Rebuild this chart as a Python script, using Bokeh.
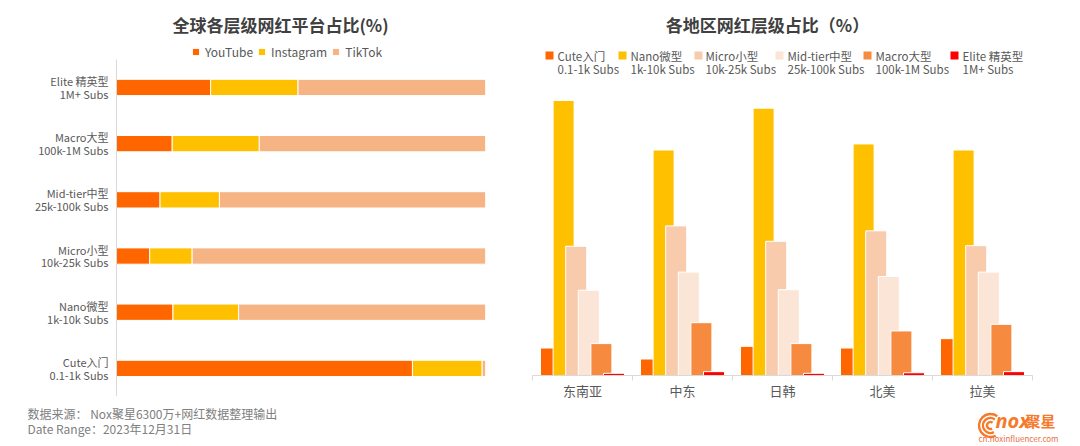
import numpy as np
from bokeh.plotting import figure
from bokeh.layouts import row, column
from bokeh.models import (FixedTicker, Range1d, ColumnDataSource, Legend, LegendItem)
from bokeh.core.properties import value
from bokeh.embed import file_html
from bokeh.resources import INLINE

# ---------------- data ----------------
tiers = ["Cute入门\n0.1-1k Subs", "Nano微型\n1k-10k Subs", "Micro小型\n10k-25k Subs",
         "Mid-tier中型\n25k-100k Subs", "Macro大型\n100k-1M Subs", "Elite 精英型\n1M+ Subs"]
platforms = ["YouTube", "Instagram", "TikTok"]
youtube = [80.2, 15.3, 9.0, 11.8, 15.1, 25.5]
instagram = [18.9, 17.8, 11.5, 16.1, 23.6, 23.7]
tiktok = [0.9, 66.9, 79.5, 72.1, 61.3, 50.8]

regions = ["东南亚", "中东", "日韩", "北美", "拉美"]
tier_names = ["Cute入门", "Nano微型", "Micro小型", "Mid-tier中型", "Macro大型", "Elite 精英型"]
tier_subs = ["0.1-1k Subs", "1k-10k Subs", "10k-25k Subs", "25k-100k Subs", "100k-1M Subs", "1M+ Subs"]
cute = [5.0, 3.0, 5.3, 5.0, 6.7]
nano = [50.0, 41.0, 48.6, 42.1, 41.0]
micro = [23.5, 27.2, 24.4, 26.3, 23.6]
mid = [15.5, 18.8, 15.6, 18.0, 18.8]
macro = [5.8, 9.6, 5.8, 8.1, 9.3]
elite = [0.4, 0.7, 0.4, 0.5, 0.7]

title_left = "全球各层级网红平台占比(%)"
title_right = "各地区网红层级占比（%）"
source_note = "数据来源： Nox聚星6300万+网红数据整理输出"
date_note = "Date Range：2023年12月31日"

FONT = "Noto Sans CJK SC"
plat_colors = ["#FF6600", "#FFC000", "#F6B383"]
tier_colors = ["#FF6600", "#FFC000", "#F8CBAD", "#FBE5D6", "#F68A3E", "#FF0000"]
LOGO = "#F57A2C"


def pane(w, h):
    f = figure(width=w, height=h, x_range=Range1d(0, w), y_range=Range1d(h, 0),
               output_backend="svg", toolbar_location=None, title=None, min_border=0)
    f.axis.visible = False
    f.grid.visible = False
    f.outline_line_color = None
    return f


def txt(f, x, y, t, size, color, bold=False, italic=False, align="left", font=FONT):
    style = "normal"
    if bold and italic:
        style = "bold italic"
    elif bold:
        style = "bold"
    elif italic:
        style = "italic"
    f.text(x=[x], y=[y], text=[t], text_font=value(font), text_font_size=f"{size}px",
           text_color=color, text_font_style=style, text_align=align, text_baseline="middle")


# ---------------- left chart ----------------
ypos = list(range(len(tiers)))
src = ColumnDataSource(dict(y=ypos, YouTube=youtube, Instagram=instagram, TikTok=tiktok))
left = figure(width=530, height=356, y_range=Range1d(-0.5, 5.836), x_range=Range1d(0, 100),
              output_backend="svg", toolbar_location=None, title=None,
              min_border_left=116, min_border_right=45, min_border_top=0, min_border_bottom=0)
rs = left.hbar_stack(platforms, y="y", height=0.29, color=plat_colors, source=src,
                     line_color="white", line_width=1)
left.xaxis.visible = False
left.grid.visible = False
left.outline_line_color = None
ya = left.yaxis[0]
ya.ticker = FixedTicker(ticks=ypos)
ya.major_label_overrides = {i: t for i, t in zip(ypos, tiers)}
ya.bounds = (-0.5, 5.5)
ya.axis_line_color = "#D9D9D9"
ya.major_tick_line_color = None
ya.minor_tick_line_color = None
ya.major_tick_out = 0
ya.major_label_standoff = 8
ya.major_label_text_font = FONT
ya.major_label_text_font_size = "11px"
ya.major_label_text_line_height = 0.8
ya.major_label_text_color = "#595959"

leg = Legend(items=[LegendItem(label=n, renderers=[r]) for n, r in zip(platforms, rs)],
             orientation="horizontal", location=(75, 336), margin=0, padding=0, spacing=4,
             glyph_width=9, glyph_height=9, label_height=12, label_standoff=5,
             label_text_font=FONT, label_text_font_size="12px", label_text_color="#595959",
             border_line_color=None, background_fill_alpha=0)
left.add_layout(leg)

hdrL = pane(530, 40)
txt(hdrL, 280, 24, title_left, 17, "#404040", bold=True, align="center")
ftrL = pane(530, 50)
txt(ftrL, 27, 17, source_note, 12, "#808080")
txt(ftrL, 27, 32, date_note, 12, "#808080")

# ---------------- right chart ----------------
right = figure(width=550, height=316, x_range=Range1d(0, 5), y_range=Range1d(0, 52),
               output_backend="svg", toolbar_location=None, title=None,
               min_border_left=2, min_border_right=48, min_border_top=0, min_border_bottom=30)
series = [cute, nano, micro, mid, macro, elite]
centers = np.arange(len(regions)) + 0.5
step, bw = 0.126, 0.21
for j, (vals, c) in enumerate(zip(series, tier_colors)):
    right.vbar(x=centers + (j - 2.5) * step, top=vals, width=bw, bottom=0,
               fill_color=c, line_color="white", line_width=1)
right.yaxis.visible = False
right.grid.visible = False
right.outline_line_color = None
xa = right.xaxis[0]
xa.ticker = FixedTicker(ticks=list(centers), minor_ticks=list(np.arange(len(regions) + 1)))
xa.major_label_overrides = {float(c): r for c, r in zip(centers, regions)}
xa.axis_line_color = "#D9D9D9"
xa.major_tick_line_color = None
xa.major_tick_out = 0
xa.minor_tick_line_color = "#D9D9D9"
xa.minor_tick_out = 5
xa.minor_tick_in = 0
xa.major_label_standoff = 0
xa.major_label_text_font = FONT
xa.major_label_text_font_size = "13px"
xa.major_label_text_color = "#595959"

hdrR = pane(550, 89)
txt(hdrR, 237, 24, title_right, 17, "#404040", bold=True, align="center")
sq_x = [19, 92, 168, 249, 337, 424]
tx_x = [27, 100, 175, 257, 345, 432]
hdrR.scatter(x=sq_x, y=[55] * 6, marker="square", size=8, fill_color=tier_colors, line_color=None)
for xt, n, s in zip(tx_x, tier_names, tier_subs):
    txt(hdrR, xt, 55, n, 11.5, "#595959")
    txt(hdrR, xt, 68, s, 11.5, "#595959")

ftrR = pane(550, 41)
ftrR.arc(x=[460, 460, 460], y=[20, 20, 20], radius=[3.5, 7.5, 11.5],
         start_angle=0.3 * np.pi, end_angle=1.65 * np.pi, direction="anticlock",
         line_color=LOGO, line_width=2.4)
txt(ftrR, 465, 15, "nox", 20, LOGO, bold=True, italic=True, font="Noto Sans")
txt(ftrR, 495, 15, "聚星", 15, LOGO, bold=True)
txt(ftrR, 488, 33, "cn.noxinfluencer.com", 8, "#E8704A", align="center")

layout = row(column(row(hdrL), row(left), row(ftrL), spacing=0),
             column(row(hdrR), row(right), row(ftrR), spacing=0), spacing=0)
open("out.html", "w").write(file_html(layout, INLINE))
